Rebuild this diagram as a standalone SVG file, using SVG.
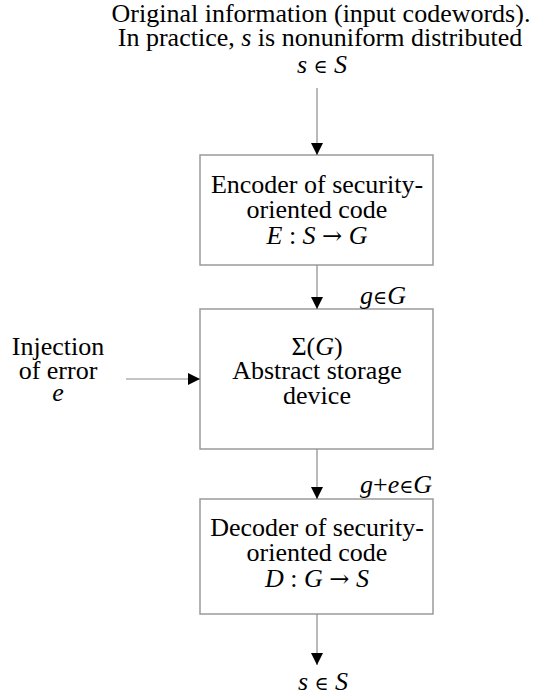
<svg xmlns="http://www.w3.org/2000/svg" width="537" height="697" viewBox="0 0 537 697">
<defs>
<marker id="ah" markerWidth="12" markerHeight="12" viewBox="0 0 12 12" refX="12" refY="6" orient="auto" markerUnits="userSpaceOnUse">
<path d="M0,0 L12,6 L0,12 Z" fill="#000"/>
</marker>
<style>
text{font-family:"Liberation Serif","Times New Roman",serif;font-size:26px;fill:#000;text-anchor:middle}
.i{font-style:italic}
.el{font-family:"DejaVu Serif",serif;font-size:19px;font-style:normal}
.ar{font-family:"DejaVu Serif",serif;font-size:24px;font-style:normal}
.box{fill:#fff;stroke:#9a9a9a;stroke-width:1.5}
.con{stroke:#8a8a8a;stroke-width:1.2;fill:none;marker-end:url(#ah)}
</style>
</defs>
<rect width="537" height="697" fill="#fff"/>
<g id="input">
<text x="321" y="22">Original information (input codewords).</text>
<text x="320" y="46">In practice, <tspan class="i">s</tspan> is nonuniform distributed</text>
<text x="322" y="73"><tspan class="i">s</tspan> <tspan class="el">∈</tspan> <tspan class="i">S</tspan></text>
</g>
<g id="encoder">
<rect class="box" x="200" y="155" width="233" height="110"/>
<text x="317" y="193">Encoder of security-</text>
<text x="317" y="218">oriented code</text>
<text x="317" y="244"><tspan class="i">E</tspan> : <tspan class="i">S</tspan> <tspan class="ar">→</tspan> <tspan class="i">G</tspan></text>
</g>
<g id="storage">
<rect class="box" x="200" y="309" width="233" height="140"/>
<text x="317" y="355">Σ(<tspan class="i">G</tspan>)</text>
<text x="317" y="379">Abstract storage</text>
<text x="317" y="404">device</text>
</g>
<g id="error">
<text x="58" y="355">Injection</text>
<text x="58" y="379">of error</text>
<text x="58" y="401" class="i">e</text>
</g>
<g id="decoder">
<rect class="box" x="200" y="499" width="233" height="115"/>
<text x="317" y="536">Decoder of security-</text>
<text x="317" y="561">oriented code</text>
<text x="317" y="587"><tspan class="i">D</tspan> : <tspan class="i">G</tspan> <tspan class="ar">→</tspan> <tspan class="i">S</tspan></text>
</g>
<g id="output">
<text x="323" y="690"><tspan class="i">s</tspan> <tspan class="el">∈</tspan> <tspan class="i">S</tspan></text>
</g>
<g id="connectors">
<line class="con" x1="317" y1="88" x2="317" y2="155"/>
<line class="con" x1="317" y1="265" x2="317" y2="309"/>
<line class="con" x1="317" y1="449" x2="317" y2="499"/>
<line class="con" x1="317" y1="614" x2="317" y2="665"/>
<line class="con" x1="126" y1="379" x2="200" y2="379"/>
<text x="383" y="304"><tspan class="i">g</tspan><tspan class="el">∈</tspan><tspan class="i">G</tspan></text>
<text x="396" y="493"><tspan class="i">g</tspan>+<tspan class="i">e</tspan><tspan class="el">∈</tspan><tspan class="i">G</tspan></text>
</g>
</svg>
